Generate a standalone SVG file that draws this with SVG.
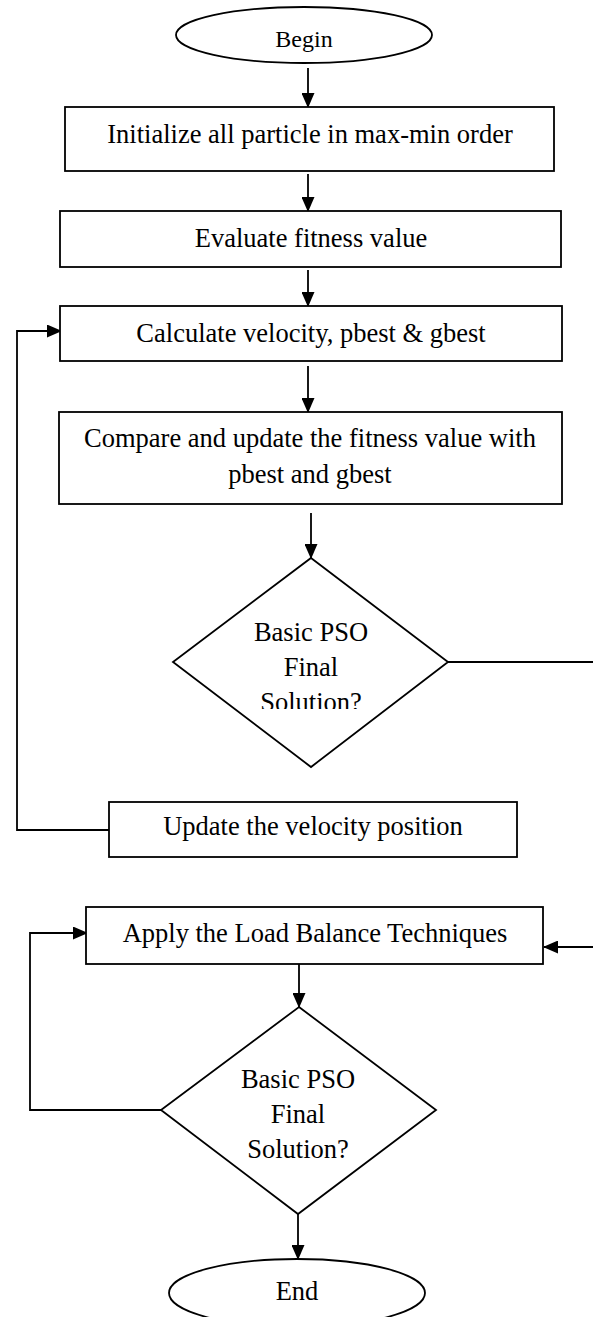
<svg xmlns="http://www.w3.org/2000/svg" width="593" height="1317" viewBox="0 0 593 1317">
  <style>
    .shape { fill: #ffffff; stroke: #000000; stroke-width: 1.8; }
    .label { font-family: "Liberation Serif", "Times New Roman", serif; font-size: 26.5px; fill: #000000; text-anchor: middle; }
    .small { font-size: 24px; }
    .wire { fill: none; stroke: #000000; stroke-width: 1.8; }
  </style>
  <defs>
    <marker id="head" viewBox="0 0 15 13" refX="14" refY="6.5" markerWidth="15" markerHeight="13" markerUnits="userSpaceOnUse" orient="auto">
      <path d="M0,0 L15,6.5 L0,13 Z" fill="#000000"/>
    </marker>
    <clipPath id="decision1-clip">
      <rect x="150" y="590" width="320" height="119"/>
    </clipPath>
  </defs>

  <rect width="593" height="1317" fill="#ffffff"/>

  <!-- connectors -->
  <g id="connectors">
    <line class="wire" x1="308" y1="68" x2="308" y2="107" marker-end="url(#head)"/>
    <line class="wire" x1="308" y1="174" x2="308" y2="211" marker-end="url(#head)"/>
    <line class="wire" x1="308" y1="270" x2="308" y2="306" marker-end="url(#head)"/>
    <line class="wire" x1="308" y1="366" x2="308" y2="412" marker-end="url(#head)"/>
    <line class="wire" x1="311" y1="513" x2="311" y2="558" marker-end="url(#head)"/>
    <!-- loop back from the velocity update -->
    <polyline class="wire" points="109,830 17,830 17,331 61,331" marker-end="url(#head)"/>
    <!-- exit of the first decision, running off to the right -->
    <line class="wire" x1="448" y1="662" x2="600" y2="662"/>
    <line class="wire" x1="600" y1="947" x2="544" y2="947" marker-end="url(#head)"/>
    <line class="wire" x1="299" y1="964" x2="299" y2="1007" marker-end="url(#head)"/>
    <!-- loop back from the second decision -->
    <polyline class="wire" points="161,1110 30,1110 30,933 87,933" marker-end="url(#head)"/>
    <line class="wire" x1="298" y1="1214" x2="298" y2="1259" marker-end="url(#head)"/>
  </g>

  <g id="begin">
    <ellipse class="shape" cx="304" cy="35" rx="128" ry="28"/>
    <text class="label small" x="304" y="47">Begin</text>
  </g>

  <g id="init">
    <rect class="shape" x="65" y="107" width="489" height="64"/>
    <text class="label" x="310" y="143">Initialize all particle in max-min order</text>
  </g>

  <g id="evaluate">
    <rect class="shape" x="60" y="211" width="501" height="56"/>
    <text class="label" x="311" y="247">Evaluate fitness value</text>
  </g>

  <g id="calculate">
    <rect class="shape" x="60" y="306" width="502" height="55"/>
    <text class="label" x="311" y="342">Calculate velocity, pbest &amp; gbest</text>
  </g>

  <g id="compare">
    <rect class="shape" x="59" y="412" width="503" height="92"/>
    <text class="label" x="310" y="447">Compare and update the fitness value with</text>
    <text class="label" x="310" y="483">pbest and gbest</text>
  </g>

  <g id="decision1">
    <polygon class="shape" points="311,558 448,662 311,767 173,662"/>
    <g clip-path="url(#decision1-clip)">
      <text class="label" x="311" y="641">Basic PSO</text>
      <text class="label" x="311" y="676">Final</text>
      <text class="label" x="311" y="711">Solution?</text>
    </g>
  </g>

  <g id="update">
    <rect class="shape" x="109" y="802" width="408" height="55"/>
    <text class="label" x="313" y="835">Update the velocity position</text>
  </g>

  <g id="apply">
    <rect class="shape" x="86" y="907" width="457" height="57"/>
    <text class="label" x="315" y="942">Apply the Load Balance Techniques</text>
  </g>

  <g id="decision2">
    <polygon class="shape" points="299,1007 436,1110 298,1214 161,1110"/>
    <text class="label" x="298" y="1088">Basic PSO</text>
    <text class="label" x="298" y="1123">Final</text>
    <text class="label" x="298" y="1158">Solution?</text>
  </g>

  <g id="end">
    <ellipse class="shape" cx="297" cy="1293" rx="128" ry="34"/>
    <text class="label" x="297" y="1300">End</text>
  </g>
</svg>
